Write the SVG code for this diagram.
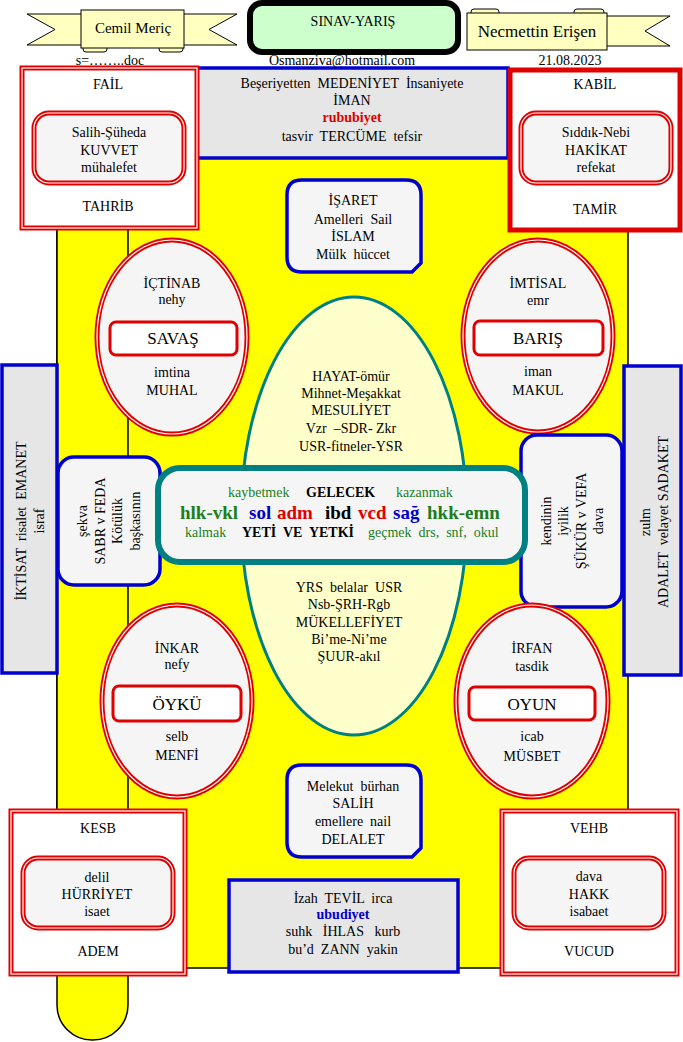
<svg xmlns="http://www.w3.org/2000/svg" width="683" height="1042" viewBox="0 0 683 1042">
<style>
text{font-family:"Liberation Serif","Times New Roman",serif;font-size:14px;fill:#000;text-anchor:middle;white-space:pre}
.s{text-anchor:start}
.b{font-weight:bold}
.g{fill:#1b7f1b}
.bl{fill:#0000cc}
.rd{fill:#e00000}
.lab{font-size:17px}
.big{font-size:19px;font-weight:bold}
.rib{fill:#ffffc0;stroke:#000;stroke-width:1}
.gray{fill:#e6e6e6;stroke:#0000d0;stroke-width:3.5}
.lt{fill:#f5f5f5;stroke:#0000d0;stroke-width:3.5}
.red5{fill:none;stroke:#e00000;stroke-width:5}
.wl{fill:none;stroke:#fff;stroke-width:1.2}
.lbox{fill:#fff;stroke:#e00000;stroke-width:3}
.ell{fill:#f5f5f5}
.inner{fill:#f5f5f5}
</style>

<g id="header">
  <g id="ribbon-cemil">
    <polygon class="rib" points="27,14 92,14 92,45 27,45 55,29.5"/>
    <polygon class="rib" points="173,14 237,14 209,29.5 237,45 173,45"/>
    <rect class="rib" x="83" y="44" width="24" height="8" rx="3"/>
    <rect class="rib" x="159" y="44" width="24" height="8" rx="3"/>
    <rect class="rib" x="81" y="10" width="103" height="38"/>
    <text x="133" y="33" style="font-size:15px">Cemil Meriç</text>
  </g>
  <g id="title">
    <rect x="250" y="3" width="208" height="49" rx="12" fill="#ccffcc" stroke="#000" stroke-width="6"/>
    <text x="353" y="26">SINAV-YARIŞ</text>
  </g>
  <g id="ribbon-necmettin">
    <rect class="rib" x="471" y="9" width="28" height="8" rx="3"/>
    <rect class="rib" x="574" y="9" width="30" height="8" rx="3"/>
    <polygon class="rib" points="595,16 670,16 645,31 670,46 595,46"/>
    <rect class="rib" x="467" y="13" width="140" height="37"/>
    <text x="537" y="37" style="font-size:17px">Necmettin Erişen</text>
  </g>
</g>

<g id="background">
  <rect x="57" y="100" width="571" height="868" fill="#ffff00" stroke="#000" stroke-width="1.5"/>
  <rect x="57" y="100" width="71" height="940" rx="35" ry="35" fill="#ffff00" stroke="#000" stroke-width="1.5"/>
</g>

<g id="connectors"></g>

<g id="top-center">
  <rect class="gray" x="197" y="68" width="311" height="90"/>
  <text x="352" y="88">Beşeriyetten  MEDENİYET  İnsaniyete</text>
  <text x="352" y="105">İMAN</text>
  <text x="352" y="122" class="b rd">rububiyet</text>
  <text x="352" y="141">tasvir  TERCÜME  tefsir</text>
</g>

<g id="fail">
  <rect x="22" y="68" width="175" height="160" fill="#fff"/>
  <rect class="red5" x="22" y="68" width="175" height="160"/>
  <rect class="wl" x="22" y="68" width="175" height="160"/>
  <text x="108" y="89">FAİL</text>
  <rect class="inner" x="34" y="113" width="150" height="70" rx="15"/>
  <rect class="red5" x="34" y="113" width="150" height="70" rx="15"/>
  <rect class="wl" x="34" y="113" width="150" height="70" rx="15"/>
  <text x="109" y="137">Salih-Şüheda</text>
  <text x="109" y="155">KUVVET</text>
  <text x="109" y="172">mühalefet</text>
  <text x="108" y="211">TAHRİB</text>
</g>

<g id="kabil">
  <rect x="510" y="70" width="170" height="160" fill="#fff" stroke="#e00000" stroke-width="5"/>
  <text x="595" y="89">KABİL</text>
  <rect class="inner" x="521" y="113" width="150" height="70" rx="15"/>
  <rect class="red5" x="521" y="113" width="150" height="70" rx="15"/>
  <rect class="wl" x="521" y="113" width="150" height="70" rx="15"/>
  <text x="596" y="137">Sıddık-Nebi</text>
  <text x="596" y="155">HAKİKAT</text>
  <text x="596" y="172">refekat</text>
  <text x="595" y="214">TAMİR</text>
</g>

<g id="isaret">
  <path class="lt" d="M302,180 H406 Q421,180 421,195 V263 L412,272 H302 Q287,272 287,257 V195 Q287,180 302,180 Z"/>
  <text x="353" y="205">İŞARET</text>
  <text x="353" y="224">Amelleri  Sail</text>
  <text x="353" y="241">İSLAM</text>
  <text x="353" y="259">Mülk  hüccet</text>
</g>

<g id="savas">
  <ellipse class="ell" cx="172" cy="337" rx="75" ry="97"/>
  <ellipse class="red5" cx="172" cy="337" rx="75" ry="97"/>
  <ellipse class="wl" cx="172" cy="337" rx="75" ry="97"/>
  <text x="172" y="288">İÇTİNAB</text>
  <text x="172" y="304">nehy</text>
  <rect class="lbox" x="110" y="322" width="127" height="33" rx="6"/>
  <text x="173" y="344" class="lab">SAVAŞ</text>
  <text x="172" y="377">imtina</text>
  <text x="172" y="395">MUHAL</text>
</g>

<g id="baris">
  <ellipse class="ell" cx="538" cy="336" rx="75" ry="96"/>
  <ellipse class="red5" cx="538" cy="336" rx="75" ry="96"/>
  <ellipse class="wl" cx="538" cy="336" rx="75" ry="96"/>
  <text x="538" y="288">İMTİSAL</text>
  <text x="538" y="305">emr</text>
  <rect class="lbox" x="474" y="321" width="129" height="34" rx="6"/>
  <text x="538" y="344" class="lab">BARIŞ</text>
  <text x="538" y="376">iman</text>
  <text x="538" y="395">MAKUL</text>
</g>

<g id="iktisat">
  <rect class="gray" x="2" y="365" width="55" height="308"/>
  <text transform="translate(26,521) rotate(-90)">İKTİSAT  risalet  EMANET</text>
  <text transform="translate(44,521) rotate(-90)">israf</text>
</g>

<g id="adalet">
  <rect class="gray" x="624" y="366" width="57" height="309"/>
  <text transform="translate(650,522) rotate(-90)">zulm</text>
  <text transform="translate(668,522) rotate(-90)">ADALET  velayet SADAKET</text>
</g>

<g id="sabr">
  <rect class="lt" x="58" y="457" width="102" height="128" rx="16"/>
  <text transform="translate(87,521) rotate(-90)">şekva</text>
  <text transform="translate(105,521) rotate(-90)">SABR v FEDA</text>
  <text transform="translate(122,521) rotate(-90)">Kötülük</text>
  <text transform="translate(140,521) rotate(-90)">başkasının</text>
</g>

<g id="sukur">
  <rect class="lt" x="521" y="435" width="101" height="172" rx="16"/>
  <text transform="translate(551,521) rotate(-90)">kendinin</text>
  <text transform="translate(568,521) rotate(-90)">iyilik</text>
  <text transform="translate(586,521) rotate(-90)">ŞÜKÜR v VEFA</text>
  <text transform="translate(603,521) rotate(-90)">dava</text>
</g>

<g id="center-ellipse">
  <ellipse cx="354" cy="516" rx="113" ry="219" fill="#ffffcc" stroke="#008080" stroke-width="3"/>
  <text x="351" y="381">HAYAT-ömür</text>
  <text x="351" y="398">Mihnet-Meşakkat</text>
  <text x="351" y="415">MESULİYET</text>
  <text x="351" y="433">Vzr  –SDR- Zkr</text>
  <text x="351" y="451">USR-fitneler-YSR</text>
  <text x="349" y="592">YRS  belalar  USR</text>
  <text x="349" y="609">Nsb-ŞRH-Rgb</text>
  <text x="349" y="627">MÜKELLEFİYET</text>
  <text x="349" y="644">Bi’me-Ni’me</text>
  <text x="349" y="661">ŞUUR-akıl</text>
</g>

<g id="band">
  <rect x="158" y="468" width="367" height="94" rx="22" fill="#f5f5f5" stroke="#008080" stroke-width="6"/>
  <text class="s g" x="228" y="497">kaybetmek</text>
  <text class="s b" x="306" y="497">GELECEK</text>
  <text class="s g" x="396" y="497">kazanmak</text>
  <text class="s big g" x="180" y="519">hlk-vkl</text>
  <text class="s big bl" x="249" y="519">sol</text>
  <text class="s big rd" x="277" y="519">adm</text>
  <text class="s big" x="325" y="519">ibd</text>
  <text class="s big rd" x="358" y="519">vcd</text>
  <text class="s big bl" x="393" y="519">sağ</text>
  <text class="s big g" x="427" y="519">hkk-emn</text>
  <text class="s g" x="185" y="537">kalmak</text>
  <text class="s b" x="242" y="537">YETİ  VE  YETKİ</text>
  <text class="s g" x="368" y="537">geçmek  drs,  snf,  okul</text>
</g>

<g id="oyku">
  <ellipse class="ell" cx="177" cy="701" rx="75" ry="96"/>
  <ellipse class="red5" cx="177" cy="701" rx="75" ry="96"/>
  <ellipse class="wl" cx="177" cy="701" rx="75" ry="96"/>
  <text x="177" y="653">İNKAR</text>
  <text x="177" y="669">nefy</text>
  <rect class="lbox" x="113" y="686" width="128" height="35" rx="6"/>
  <text x="177" y="710" class="lab">ÖYKÜ</text>
  <text x="177" y="741">selb</text>
  <text x="177" y="760">MENFİ</text>
</g>

<g id="oyun">
  <ellipse class="ell" cx="532" cy="701" rx="76" ry="96"/>
  <ellipse class="red5" cx="532" cy="701" rx="76" ry="96"/>
  <ellipse class="wl" cx="532" cy="701" rx="76" ry="96"/>
  <text x="532" y="653">İRFAN</text>
  <text x="532" y="671">tasdik</text>
  <rect class="lbox" x="469" y="687" width="126" height="33" rx="6"/>
  <text x="532" y="710" class="lab">OYUN</text>
  <text x="532" y="741">icab</text>
  <text x="532" y="761">MÜSBET</text>
</g>

<g id="melekut">
  <path class="lt" d="M302,765 H406 Q421,765 421,780 V848 L412,857 H302 Q287,857 287,842 V780 Q287,765 302,765 Z"/>
  <text x="353" y="791">Melekut  bürhan</text>
  <text x="353" y="808">SALİH</text>
  <text x="353" y="826">emellere  nail</text>
  <text x="353" y="844">DELALET</text>
</g>

<g id="izah">
  <rect class="gray" x="229" y="880" width="229" height="92"/>
  <text x="343" y="903">İzah  TEVİL  irca</text>
  <text x="343" y="919" class="b bl">ubudiyet</text>
  <text x="343" y="936">suhk   İHLAS   kurb</text>
  <text x="343" y="954">bu’d  ZANN  yakin</text>
</g>

<g id="kesb">
  <rect x="11" y="811" width="174" height="163" fill="#fff"/>
  <rect class="red5" x="11" y="811" width="174" height="163"/>
  <rect class="wl" x="11" y="811" width="174" height="163"/>
  <text x="98" y="833">KESB</text>
  <rect class="inner" x="23" y="858" width="150" height="70" rx="15"/>
  <rect class="red5" x="23" y="858" width="150" height="70" rx="15"/>
  <rect class="wl" x="23" y="858" width="150" height="70" rx="15"/>
  <text x="97" y="882">delil</text>
  <text x="97" y="899">HÜRRİYET</text>
  <text x="97" y="916">isaet</text>
  <text x="98" y="956">ADEM</text>
</g>

<g id="vehb">
  <rect x="502" y="811" width="175" height="163" fill="#fff"/>
  <rect class="red5" x="502" y="811" width="175" height="163"/>
  <rect class="wl" x="502" y="811" width="175" height="163"/>
  <text x="589" y="833">VEHB</text>
  <rect class="inner" x="514" y="858" width="150" height="70" rx="15"/>
  <rect class="red5" x="514" y="858" width="150" height="70" rx="15"/>
  <rect class="wl" x="514" y="858" width="150" height="70" rx="15"/>
  <text x="589" y="881">dava</text>
  <text x="589" y="899">HAKK</text>
  <text x="589" y="916">isabaet</text>
  <text x="589" y="956">VUCUD</text>
</g>

<g id="header-line">
  <text x="110" y="65">s=……..doc</text>
  <text x="342" y="65">Osmanziva@hotmail.com</text>
  <text x="570" y="65">21.08.2023</text>
</g>
</svg>
